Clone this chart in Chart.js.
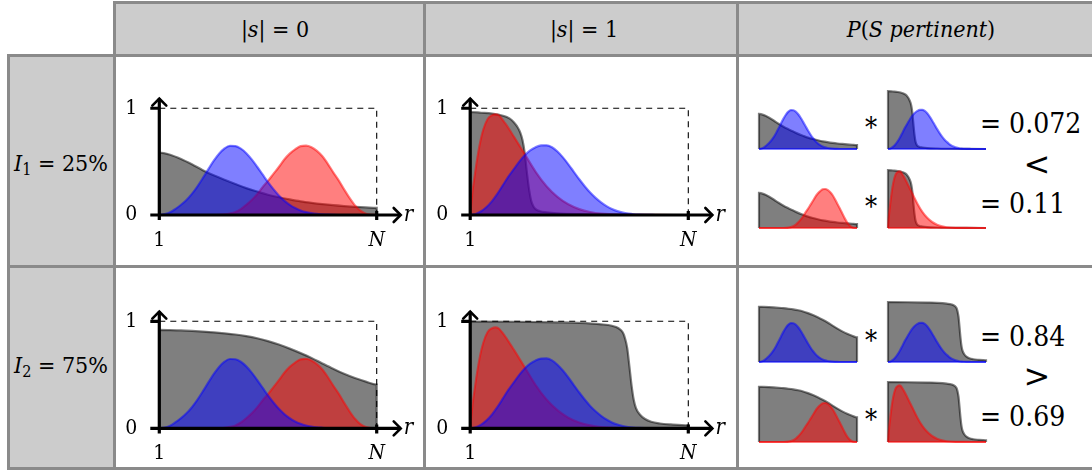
<!DOCTYPE html>
<html>
<head>
<meta charset="utf-8">
<script src="https://cdn.jsdelivr.net/npm/chart.js@4.4.1/dist/chart.umd.min.js"></script>
<style>
  body { margin: 0; width: 1092px; height: 472px; overflow: hidden; background: #fff; position: relative; color: #000; }
  .rule { position: absolute; background: #8a8a8a; }
  .shade { position: absolute; background: #cccccc; }
  .txt, .num { position: absolute; white-space: nowrap; line-height: 1;
               font-family: 'DejaVu Serif Condensed', 'DejaVu Serif', serif; font-stretch: condensed; }
  .txt { transform: translate(-50%, -50%); }
  .num { transform: translate(0, -50%); font-size: 28px; }
  .sym { font-family: 'DejaVu Sans', sans-serif; font-stretch: normal; font-size: 32px; }
  sub { font-size: 0.7em; vertical-align: -0.28em; line-height: 0; }
  canvas { position: absolute; }
</style>
</head>
<body>
<!-- table shading and rules -->
<div class="shade" style="left:116px;top:4px;width:976px;height:50px"></div>
<div class="shade" style="left:10px;top:57px;width:103px;height:208px"></div>
<div class="shade" style="left:10px;top:268px;width:103px;height:199px"></div>
<div class="rule" style="left:113px;top:1px;width:979px;height:3px"></div>
<div class="rule" style="left:7px;top:54px;width:1085px;height:3px"></div>
<div class="rule" style="left:7px;top:265px;width:1085px;height:3px"></div>
<div class="rule" style="left:7px;top:467px;width:1085px;height:3px"></div>
<div class="rule" style="left:7px;top:54px;width:3px;height:416px"></div>
<div class="rule" style="left:113px;top:1px;width:3px;height:469px"></div>
<div class="rule" style="left:423px;top:1px;width:3px;height:469px"></div>
<div class="rule" style="left:736px;top:1px;width:3px;height:469px"></div>

<div class="txt" style="left:275px;top:29px;font-size:23px">|<i>s</i>| = 0</div>
<div class="txt" style="left:584px;top:29px;font-size:23px">|<i>s</i>| = 1</div>
<div class="txt" style="left:921px;top:29px;font-size:23px"><i>P</i>(<i>S pertinent</i>)</div>
<div class="txt" style="left:61px;top:163px;font-size:23px"><i>I</i><sub>1</sub> = 25%</div>
<div class="txt" style="left:61px;top:365px;font-size:23px"><i>I</i><sub>2</sub> = 75%</div>

<div class="txt" style="left:871px;top:127px;font-size:27px">*</div>
<div class="txt" style="left:871px;top:206px;font-size:27px">*</div>
<div class="txt" style="left:871px;top:340px;font-size:27px">*</div>
<div class="txt" style="left:871px;top:419px;font-size:27px">*</div>
<div class="num" style="left:980px;top:124px">= 0.072</div>
<div class="num" style="left:980px;top:204px">= 0.11</div>
<div class="num" style="left:980px;top:337px">= 0.84</div>
<div class="num" style="left:980px;top:417px">= 0.69</div>
<div class="txt sym" style="left:1037px;top:164px">&lt;</div>
<div class="txt sym" style="left:1037px;top:376px">&gt;</div>

<script>
// rank positions, 0 = rank 1, 1 = rank N
const R_FINE = [0, 0.025, 0.05, 0.075, 0.1, 0.125, 0.15, 0.175, 0.2, 0.225, 0.25, 0.275, 0.3, 0.325, 0.35,
  0.375, 0.4, 0.425, 0.45, 0.475, 0.5, 0.525, 0.55, 0.575, 0.6, 0.625, 0.65, 0.675, 0.7, 0.725, 0.75,
  0.775, 0.8, 0.825, 0.85, 0.875, 0.9, 0.925, 0.95, 0.975, 1]
const R_COARSE = [0, 0.05, 0.1, 0.15, 0.2, 0.25, 0.3, 0.35, 0.4, 0.45, 0.5, 0.55, 0.6, 0.65, 0.7, 0.75,
  0.8, 0.85, 0.9, 0.95, 1]

// blue and red bells (on R_FINE unless a rank list is given)
const BLUE_S0 = [0, 0.008, 0.025, 0.058, 0.096, 0.141, 0.198, 0.267, 0.345, 0.427, 0.506, 0.574, 0.623,
  0.648, 0.646, 0.622, 0.579, 0.521, 0.452, 0.38, 0.308, 0.242, 0.183, 0.134, 0.095, 0.065, 0.043, 0.027,
  0.017, 0.01, 0.006, 0.003, 0.001, 0, 0, 0, 0, 0, 0, 0, 0]
const BLUE_S1 = [0, 0.01, 0.035, 0.075, 0.13, 0.2, 0.28, 0.36, 0.43, 0.5, 0.56, 0.605, 0.635, 0.652, 0.653,
  0.635, 0.595, 0.54, 0.475, 0.405, 0.335, 0.27, 0.21, 0.16, 0.118, 0.083, 0.056, 0.036, 0.022, 0.013,
  0.007, 0.004, 0.002, 0.001, 0, 0, 0, 0, 0, 0, 0]
const RED_S0 = [0, 0, 0, 0, 0, 0, 0, 0, 0, 0, 0, 0.002, 0.006, 0.014, 0.028, 0.055, 0.095, 0.14, 0.195,
  0.26, 0.32, 0.385, 0.45, 0.52, 0.575, 0.615, 0.645, 0.65, 0.635, 0.6, 0.55, 0.48, 0.4, 0.325, 0.24,
  0.16, 0.09, 0.04, 0.012, 0.002, 0]
const RED_S1_R = [0, 0.01, 0.02, 0.03, 0.045, 0.06, 0.08, 0.1, 0.115, 0.13, 0.16, 0.2, 0.25, 0.3, 0.35,
  0.4, 0.45, 0.5, 0.55, 0.6, 0.7, 0.8, 1]
const RED_S1 = [0, 0.21, 0.36, 0.5, 0.675, 0.8, 0.9, 0.935, 0.943, 0.935, 0.86, 0.735, 0.57, 0.405, 0.27,
  0.17, 0.1, 0.055, 0.028, 0.013, 0.003, 0.001, 0]

// grey curves
const GRAY_I1_S0 = [0.585, 0.565, 0.525, 0.475, 0.42, 0.372, 0.33, 0.29, 0.252, 0.22, 0.19, 0.166, 0.146,
  0.128, 0.114, 0.102, 0.092, 0.084, 0.077, 0.071, 0.066]
const GRAY_I1_S1_R = [0, 0.05, 0.1, 0.15, 0.18, 0.2, 0.215, 0.23, 0.24, 0.25, 0.26, 0.27, 0.28, 0.29, 0.3,
  0.32, 0.35, 0.4, 0.5, 0.6, 0.8, 1]
const GRAY_I1_S1 = [0.965, 0.958, 0.95, 0.93, 0.905, 0.87, 0.83, 0.77, 0.7, 0.58, 0.4, 0.24, 0.13, 0.08,
  0.055, 0.035, 0.025, 0.016, 0.008, 0.004, 0.001, 0]
const GRAY_I2_S0 = [0.92, 0.918, 0.915, 0.91, 0.904, 0.897, 0.888, 0.877, 0.862, 0.842, 0.815, 0.783, 0.745,
  0.703, 0.658, 0.607, 0.557, 0.51, 0.47, 0.437, 0.41]
const GRAY_I2_S1_R = [0, 0.2, 0.4, 0.5, 0.6, 0.65, 0.68, 0.7, 0.71, 0.72, 0.73, 0.74, 0.75, 0.76, 0.78, 0.8,
  0.83, 0.87, 0.92, 1]
const GRAY_I2_S1 = [0.998, 0.996, 0.99, 0.985, 0.972, 0.958, 0.935, 0.895, 0.84, 0.75, 0.58, 0.4, 0.265, 0.19,
  0.125, 0.09, 0.062, 0.046, 0.037, 0.029]

const FRAME_R = [0, 1, 1]
const FRAME_V = [1, 1, 0]
const X_TICKS = ['1', 'N']
const Y_TICKS = ['0', '1']

const SERIF = '"DejaVu Serif Condensed", "DejaVu Serif", serif'
const X_MAX = 1.115
const Y_MAX = 1.1
const BLUE = '0,0,255'
const RED = '255,0,0'
const BLACK = '0,0,0'

const pts = (r, v) => r.map((x, i) => ({ x, y: v[i] }))
const closed = (r, v) => [{ x: r[0], y: 0 }, ...pts(r, v), { x: r[r.length - 1], y: 0 }]

function area(data, rgb) {
  return {
    data,
    borderColor: `rgba(${rgb},0.5)`,
    backgroundColor: `rgba(${rgb},0.5)`,
    borderWidth: 2.2,
    fill: 'origin',
    cubicInterpolationMode: 'monotone',
    pointRadius: 0,
    clip: false,
  }
}

function addCanvas(left, top, w, h) {
  const c = document.createElement('canvas')
  c.width = w
  c.height = h
  c.style.left = left + 'px'
  c.style.top = top + 'px'
  c.style.width = w + 'px'
  c.style.height = h + 'px'
  document.body.appendChild(c)
  return c
}

const base = {
  responsive: false,
  animation: false,
  devicePixelRatio: 1,
  events: [],
  plugins: { legend: { display: false }, tooltip: { enabled: false } },
}

// black axes with open arrow heads, ticks at 1 and N, and the r label
const axesPlugin = {
  id: 'axes',
  afterDatasetsDraw(chart) {
    const { ctx, scales: { x, y } } = chart
    const x0 = x.getPixelForValue(0)
    const x1 = x.getPixelForValue(1)
    const xTip = x.getPixelForValue(X_MAX) - 1
    const y0 = y.getPixelForValue(0)
    const y1 = y.getPixelForValue(1)
    const yTip = y.getPixelForValue(Y_MAX) + 1
    ctx.save()
    ctx.strokeStyle = '#000'
    ctx.lineWidth = 3.2
    ctx.beginPath()
    ctx.moveTo(x0, y0 + 5)
    ctx.lineTo(x0, yTip)
    ctx.moveTo(x0 - 9, y0)
    ctx.lineTo(xTip, y0)
    ctx.moveTo(x0 - 9, y1)
    ctx.lineTo(x0, y1)
    ctx.moveTo(x1, y0 - 4)
    ctx.lineTo(x1, y0 + 5)
    ctx.stroke()
    ctx.lineWidth = 2.6
    ctx.lineCap = 'round'
    ctx.beginPath()
    ctx.moveTo(x0 - 7, yTip + 7)
    ctx.lineTo(x0, yTip)
    ctx.lineTo(x0 + 7, yTip + 7)
    ctx.moveTo(xTip - 7, y0 - 7)
    ctx.lineTo(xTip, y0)
    ctx.lineTo(xTip - 7, y0 + 7)
    ctx.stroke()
    ctx.fillStyle = '#000'
    ctx.font = 'italic 22px ' + SERIF
    ctx.textBaseline = 'alphabetic'
    ctx.fillText('r', xTip + 3, y0 + 6)
    ctx.restore()
  },
}

function panel(ox, oy, sx, sy, gray, red, blue) {
  const left = Math.floor(ox - 44)
  const top = Math.floor(oy - Y_MAX * sy) - 8
  const yAxisW = ox - left
  const padTop = oy - Y_MAX * sy - top
  const w = 312
  const h = Math.ceil(padTop + Y_MAX * sy + 44)
  const padRight = w - yAxisW - X_MAX * sx
  const xAxisH = h - padTop - Y_MAX * sy
  const frame = {
    data: pts(FRAME_R, FRAME_V),
    borderColor: '#000',
    borderWidth: 1.1,
    borderDash: [6, 5],
    fill: false,
    pointRadius: 0,
    clip: false,
  }
  const tickFont = (c) => ({ family: SERIF, size: 21, style: c.tick && c.tick.value === 1 ? 'italic' : 'normal' })
  new Chart(addCanvas(left, top, w, h), {
    type: 'line',
    data: { datasets: [area(blue, BLUE), area(red, RED), area(gray, BLACK), frame] },
    options: {
      ...base,
      layout: { padding: { left: 0, top: padTop, right: padRight, bottom: 0 } },
      scales: {
        x: {
          type: 'linear', min: 0, max: X_MAX,
          grid: { display: false, drawTicks: false }, border: { display: false },
          afterBuildTicks: (s) => { s.ticks = [{ value: 0 }, { value: 1 }] },
          afterFit: (s) => { s.height = xAxisH },
          ticks: { padding: 13, color: '#000', autoSkip: false, maxRotation: 0, font: tickFont, callback: (v) => X_TICKS[v] },
        },
        y: {
          type: 'linear', min: 0, max: Y_MAX,
          grid: { display: false, drawTicks: false }, border: { display: false },
          afterBuildTicks: (s) => { s.ticks = [{ value: 0 }, { value: 1 }] },
          afterFit: (s) => { s.width = yAxisW },
          ticks: { padding: 22, color: '#000', autoSkip: false, font: { family: SERIF, size: 21 }, callback: (v) => Y_TICKS[v] },
        },
      },
    },
    plugins: [axesPlugin],
  })
}

function thumb(x0, baseY, gray, curve, rgb) {
  const sw = 98
  const sh = 60
  const pad = 4
  const baseline = {
    data: [{ x: R_FINE[0], y: 0 }, { x: R_FINE[R_FINE.length - 1], y: 0 }],
    borderColor: `rgba(${rgb},0.5)`,
    borderWidth: 2.2,
    fill: false,
    pointRadius: 0,
    clip: false,
  }
  new Chart(addCanvas(x0 - pad, baseY - sh - pad, sw + 2 * pad, sh + 2 * pad), {
    type: 'line',
    data: { datasets: [baseline, area(curve, rgb), area(gray, BLACK)] },
    options: {
      ...base,
      layout: { padding: pad },
      scales: {
        x: { type: 'linear', display: false, min: 0, max: 1 },
        y: { type: 'linear', display: false, min: 0, max: 1 },
      },
    },
  })
}

const grayA = closed(R_COARSE, GRAY_I1_S0)
const grayB = closed(GRAY_I1_S1_R, GRAY_I1_S1)
const grayC = closed(R_COARSE, GRAY_I2_S0)
const grayD = closed(GRAY_I2_S1_R, GRAY_I2_S1)
const blue0 = pts(R_FINE, BLUE_S0)
const blue1 = pts(R_FINE, BLUE_S1)
const red0 = pts(R_FINE, RED_S0)
const red1 = pts(RED_S1_R, RED_S1)

panel(159.3, 215, 217.4, 130.6, grayA, red0, blue0)
panel(470.2, 215, 218.1, 130.6, grayB, red1, blue1)
panel(159.3, 428.4, 217.4, 130.6, grayC, red0, blue0)
panel(470.2, 428.4, 218.1, 130.6, grayD, red1, blue1)

thumb(759, 149, grayA, blue0, BLUE)
thumb(888, 149, grayB, blue1, BLUE)
thumb(759, 228, grayA, red0, RED)
thumb(888, 228, grayB, red1, RED)
thumb(759, 362, grayC, blue0, BLUE)
thumb(888, 362, grayD, blue1, BLUE)
thumb(759, 442, grayC, red0, RED)
thumb(888, 442, grayD, red1, RED)
</script>
</body>
</html>
